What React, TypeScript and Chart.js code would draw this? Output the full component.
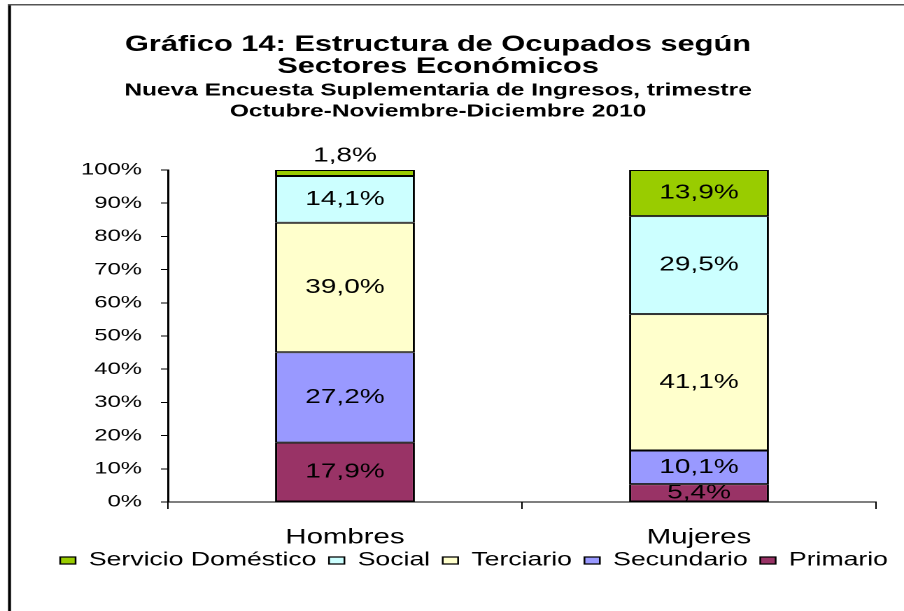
import React, { useEffect, useRef } from "react";
import { Chart, registerables } from "chart.js";

Chart.register(...registerables);

// ---- data ----
const categories = ["Hombres", "Mujeres"];
const primario = [17.9, 5.4];
const secundario = [27.2, 10.1];
const terciario = [39.0, 41.1];
const social = [14.1, 29.5];
const servicioDomestico = [1.8, 13.9];
const yTickValues = [0, 10, 20, 30, 40, 50, 60, 70, 80, 90, 100];
const titleLines = ["Gráfico 14: Estructura de Ocupados según", "Sectores Económicos"];
const subtitleLines = ["Nueva Encuesta Suplementaria de Ingresos, trimestre", "Octubre-Noviembre-Diciembre 2010"];

// ---- layout (chart is drawn narrow and stretched horizontally like the source image) ----
const W = 646;
const H = 611;
const SX = 904 / W;
const FONT = "'Liberation Sans', Arial, Helvetica, sans-serif";
const LEGEND_FONT = 19;
const LEGEND_PAD = 9;

const fmt = (v: number) => v.toFixed(1).replace(".", ",") + "%";

const framePlugin = {
  id: "frame",
  beforeDraw(chart: any) {
    const ctx = chart.ctx;
    ctx.save();
    ctx.fillStyle = "#ffffff";
    ctx.fillRect(0, 0, W, H);
    ctx.strokeStyle = "#000000";
    ctx.lineWidth = 2.1;
    ctx.beginPath();
    ctx.moveTo(6.8, 4);
    ctx.lineTo(6.8, H);
    ctx.stroke();
    ctx.strokeStyle = "#555555";
    ctx.lineWidth = 1.5;
    ctx.beginPath();
    ctx.moveTo(5.8, 4.75);
    ctx.lineTo(W, 4.75);
    ctx.stroke();
    ctx.restore();
  },
};

const legendShiftPlugin = {
  id: "legendShift",
  afterLayout(chart: any) {
    const lg = chart.legend;
    if (lg) {
      lg.left += 34;
      lg.right += 34;
      const targetTop = 560.5 - LEGEND_PAD - LEGEND_FONT / 2;
      const dy = targetTop - lg.top;
      lg.top += dy;
      lg.bottom += dy;
    }
  },
};

const valueLabelPlugin = {
  id: "valueLabels",
  afterDatasetsDraw(chart: any) {
    const ctx = chart.ctx;
    ctx.save();
    ctx.font = `20px ${FONT}`;
    ctx.fillStyle = "#000000";
    ctx.textAlign = "center";
    ctx.textBaseline = "middle";
    const n = chart.data.datasets.length;
    chart.data.datasets.forEach((ds: any, i: number) => {
      const meta = chart.getDatasetMeta(i);
      meta.data.forEach((bar: any, j: number) => {
        const v = ds.data[j] as number;
        const { x, y, base } = bar.getProps(["x", "y", "base"], true);
        const ly = v < 3 && i === n - 1 ? y - 14 : (y + base) / 2;
        ctx.fillText(fmt(v), x, ly);
      });
    });
    ctx.restore();
  },
};

export default function App() {
  const ref = useRef<HTMLCanvasElement | null>(null);

  useEffect(() => {
    document.body.style.margin = "0";
    const canvas = ref.current;
    if (!canvas) return;
    Chart.defaults.font.family = FONT;

    const border = { top: 1, bottom: 1, left: 1.5, right: 1.5 };
    const mk = (label: string, data: number[], color: string) => ({
      label,
      data,
      backgroundColor: color,
      borderColor: "#000000",
      borderWidth: border,
      borderSkipped: false,
      barPercentage: 0.395,
      categoryPercentage: 1,
    });

    const chart = new Chart(canvas, {
      type: "bar",
      data: {
        labels: categories,
        datasets: [
          mk("Primario", primario, "#993366"),
          mk("Secundario", secundario, "#9999FF"),
          mk("Terciario", terciario, "#FFFFCC"),
          mk("Social", social, "#CCFFFF"),
          mk("Servicio Doméstico", servicioDomestico, "#99CC00"),
        ] as any,
      },
      options: {
        responsive: false,
        maintainAspectRatio: false,
        devicePixelRatio: 2,
        animation: false,
        events: [],
        layout: { padding: { left: 0, right: 20, top: 0, bottom: 23 } },
        plugins: {
          tooltip: { enabled: false },
          title: {
            display: true,
            text: titleLines,
            color: "#000000",
            font: { size: 22, weight: "bold", lineHeight: "22px" } as any,
            padding: { top: 34, bottom: 0 },
          },
          subtitle: {
            display: true,
            text: subtitleLines,
            color: "#000000",
            font: { size: 17.5, weight: "bold", lineHeight: "21px" } as any,
            padding: { top: 2, bottom: 48 },
          },
          legend: {
            display: true,
            position: "bottom",
            align: "start",
            reverse: true,
            labels: {
              boxWidth: 11,
              boxHeight: 7,
              padding: LEGEND_PAD,
              color: "#000000",
              font: { size: LEGEND_FONT },
            },
          },
        },
        scales: {
          x: {
            stacked: true,
            offset: true,
            grid: {
              display: true,
              offset: true,
              drawOnChartArea: false,
              drawTicks: true,
              tickLength: 7,
              color: "#000000",
              lineWidth: 1,
            },
            border: { display: true, color: "#000000", width: 1 },
            ticks: { color: "#000000", font: { size: 21 }, padding: 16 },
            afterFit: (s: any) => {
              s.height = 48;
            },
          },
          y: {
            stacked: true,
            min: yTickValues[0],
            max: yTickValues[yTickValues.length - 1],
            ticks: {
              stepSize: 10,
              color: "#000000",
              font: { size: 17 },
              padding: 13.6,
              callback: (v: any) => `${v}%`,
            },
            afterBuildTicks: (s: any) => {
              s.ticks = yTickValues.map((v) => ({ value: v }));
            },
            grid: {
              display: true,
              drawOnChartArea: false,
              drawTicks: true,
              tickLength: 5,
              color: "#000000",
              lineWidth: 1,
            },
            border: { display: true, color: "#000000", width: 1.5 },
            afterFit: (s: any) => {
              s.width = 120;
            },
          },
        },
      } as any,
      plugins: [framePlugin, legendShiftPlugin, valueLabelPlugin],
    });

    return () => chart.destroy();
  }, []);

  return (
    <div style={{ position: "relative", width: 904, height: 611, overflow: "hidden", background: "#fff" }}>
      <canvas
        ref={ref}
        width={W}
        height={H}
        style={{
          display: "block",
          width: `${W}px`,
          height: `${H}px`,
          transform: `scaleX(${SX})`,
          transformOrigin: "0 0",
        }}
      />
    </div>
  );
}
